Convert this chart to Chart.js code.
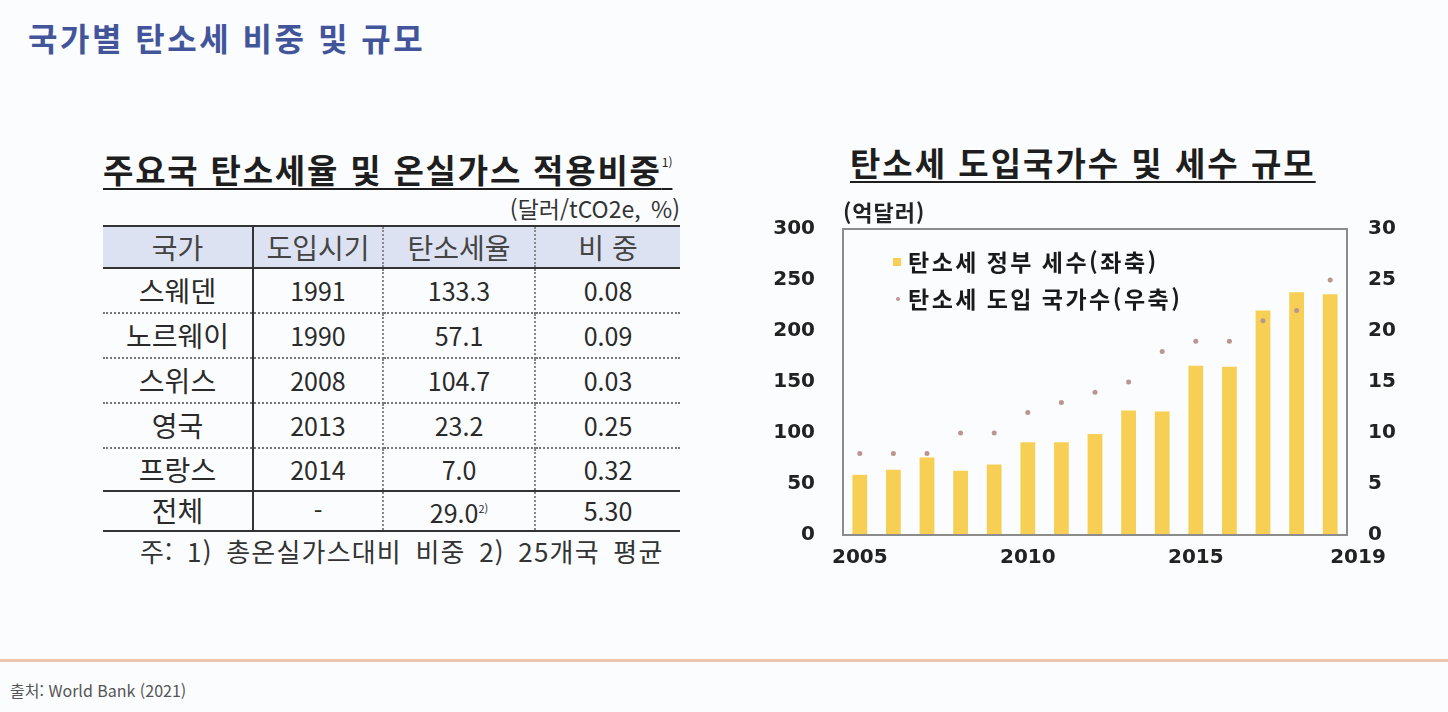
<!DOCTYPE html>
<html lang="ko">
<head>
<meta charset="utf-8">
<script src="https://cdn.jsdelivr.net/npm/chart.js@4.4.1/dist/chart.umd.min.js"></script>
<style>
  html, body { margin: 0; padding: 0; }
  body { width: 1448px; height: 712px; background: #fafcfd; position: relative; overflow: hidden;
         font-family: "Noto Sans CJK KR", "Noto Sans", sans-serif; color: #2a2a2a; }
  .abs { position: absolute; white-space: nowrap; }
  #pageTitle { left: 28px; top: 18px; font-size: 32px; line-height: 38px; font-weight: 700; color: #42559a; letter-spacing: 2.5px; }
  .subTitle { font-size: 33px; line-height: 38px; font-weight: 700; color: #1e1e1e; letter-spacing: 1.8px;
              text-decoration: underline; text-decoration-thickness: 2px; text-underline-offset: 5px; }
  #tblTitle { left: 103px; top: 143px; }
  #tblTitle sup { font-size: 12px; font-weight: 400; letter-spacing: 0; vertical-align: 16px; }
  #chartTitle { left: 850px; top: 143px; letter-spacing: 2px; }
  #unit { right: 768px; top: 195px; font-size: 23px; line-height: 26px; color: #333; word-spacing: 4px; }
  table { position: absolute; left: 103px; top: 225px; width: 577px; border-collapse: collapse; table-layout: fixed;
          border-top: 2px solid #333; font-size: 25px; }
  th, td { text-align: center; vertical-align: middle; padding: 0; line-height: 28px; box-sizing: border-box; }
  th { background: #dde2f2; font-weight: 400; color: #444; height: 42px; border-bottom: 2px solid #333; font-size: 28px; }
  td { height: 45px; border-bottom: 2px dotted #777; padding-bottom: 2px; }
  td:first-child { font-size: 28px; }
  th, td { border-right: 2px dotted #888; }
  th:first-child, td:first-child { border-right: 2px solid #333; }
  th:last-child, td:last-child { border-right: none; }
  tr.beforeTotal td { border-bottom: 2px solid #333; height: 43px; }
  tr.total td { border-bottom: 2px solid #333; height: 40px; }
  td sup { font-size: 11px; vertical-align: 10px; }
  #note { left: 140px; top: 534px; font-size: 26px; line-height: 34px; color: #333; letter-spacing: 1.2px; word-spacing: 5px; }
  #rule { left: 0; top: 659px; width: 1448px; height: 3px; background: #efc4b3; }
  #source { left: 10px; top: 679px; font-size: 16px; line-height: 22px; color: #555; }
  #chartBox { left: 760px; top: 189px; width: 660px; height: 391px; }
</style>
</head>
<body>
<div id="pageTitle" class="abs">국가별 탄소세 비중 및 규모</div>

<div id="tblTitle" class="abs subTitle">주요국 탄소세율 및 온실가스 적용비중<sup>1)</sup></div>
<div id="unit" class="abs">(달러/tCO2e, %)</div>
<table id="taxTable"></table>
<div id="note" class="abs">주: 1) 총온실가스대비 비중 2) 25개국 평균</div>

<div id="chartTitle" class="abs subTitle">탄소세 도입국가수 및 세수 규모</div>
<div id="chartBox" class="abs"><canvas id="chart" width="660" height="391"></canvas></div>

<div id="rule" class="abs"></div>
<div id="source" class="abs">출처: World Bank (2021)</div>

<script>
'use strict';
// table data
const tableHead = ['국가', '도입시기', '탄소세율', '비 중'];
const colWidths = [150, 130, 152, 145];
const countryNames = ['스웨덴', '노르웨이', '스위스', '영국', '프랑스', '전체'];
const startYears = ['1991', '1990', '2008', '2013', '2014', '-'];
const taxRates = ['133.3', '57.1', '104.7', '23.2', '7.0', '29.0'];
const shares = ['0.08', '0.09', '0.03', '0.25', '0.32', '5.30'];

// chart data
const years = ['2005', '2006', '2007', '2008', '2009', '2010', '2011', '2012',
               '2013', '2014', '2015', '2016', '2017', '2018', '2019'];
const revenue = [59, 64, 76, 63, 69, 91, 91, 99, 122, 121, 166, 165, 220, 238, 236];   // 억달러
const countryCount = [8, 8, 8, 10, 10, 12, 13, 14, 15, 18, 19, 19, 21, 22, 25];
const leftTicks = [0, 50, 100, 150, 200, 250, 300];
const rightTicks = [0, 5, 10, 15, 20, 25, 30];

const barColor = '#f7cf55';
const dotColor = '#bb9690';
const numFont = 'DejaVu Sans';
const korFont = 'Noto Sans CJK KR';

// build table
(function () {
  const tbl = document.getElementById('taxTable');
  let html = '<colgroup>' + colWidths.map(w => '<col style="width:' + w + 'px">').join('') + '</colgroup>';
  html += '<thead><tr>' + tableHead.map(h => '<th>' + h + '</th>').join('') + '</tr></thead><tbody>';
  countryNames.forEach((name, i) => {
    let cls = '';
    if (i === countryNames.length - 2) cls = ' class="beforeTotal"';
    if (i === countryNames.length - 1) cls = ' class="total"';
    const rate = (i === countryNames.length - 1) ? taxRates[i] + '<sup>2)</sup>' : taxRates[i];
    html += '<tr' + cls + '><td>' + name + '</td><td>' + startYears[i] + '</td><td>' + rate +
            '</td><td>' + shares[i] + '</td></tr>';
  });
  tbl.innerHTML = html + '</tbody>';
})();

// frame, unit label and legend inside the plot
const framePlugin = {
  id: 'frame',
  afterDraw(chart) {
    const ctx = chart.ctx, a = chart.chartArea;
    ctx.save();
    ctx.strokeStyle = '#8c8c8c';
    ctx.lineWidth = 2;
    ctx.strokeRect(a.left, a.top, a.right - a.left, a.bottom - a.top);

    ctx.fillStyle = '#222';
    ctx.font = 'bold 22px "' + korFont + '"';
    ctx.textBaseline = 'middle';
    if ('letterSpacing' in ctx) ctx.letterSpacing = '1px';
    ctx.fillText('(억달러)', a.left, a.top - 16);

    ctx.font = 'bold 23px "' + korFont + '"';
    if ('letterSpacing' in ctx) ctx.letterSpacing = '2.5px';
    chart.data.datasets.forEach((ds, i) => {
      const y = a.top + 33 + i * 37;
      if (ds.type === 'bar') {
        ctx.fillStyle = ds.backgroundColor;
        ctx.fillRect(a.left + 50, y - 4, 8, 8);
      } else {
        ctx.fillStyle = ds.pointBackgroundColor;
        ctx.beginPath();
        ctx.arc(a.left + 55, y, 2, 0, Math.PI * 2);
        ctx.fill();
      }
      ctx.fillStyle = '#1a1a1a';
      ctx.fillText(ds.label, a.left + 65, y);
    });
    ctx.restore();
  }
};

const tickFont = { family: numFont, size: 20, weight: 'bold' };

new Chart(document.getElementById('chart'), {
  type: 'bar',
  data: {
    labels: years,
    datasets: [
      {
        type: 'bar',
        label: '탄소세 정부 세수(좌축)',
        data: revenue,
        yAxisID: 'y',
        backgroundColor: barColor,
        categoryPercentage: 1,
        barPercentage: 0.44,
        order: 1
      },
      {
        type: 'line',
        label: '탄소세 도입 국가수(우축)',
        data: countryCount,
        yAxisID: 'y1',
        showLine: false,
        pointRadius: 2.5,
        pointBackgroundColor: dotColor,
        pointBorderWidth: 0,
        order: 0
      }
    ]
  },
  options: {
    responsive: false,
    animation: false,
    layout: { padding: 0 },
    plugins: { legend: { display: false }, tooltip: { enabled: false } },
    scales: {
      // last year label starts at its bar, to the right, as in the source
      // (mirror keeps it from being clipped to this zero-height axis)
      xEnd: {
        type: 'category', position: 'bottom', weight: 0, offset: true,
        grid: { display: false, drawTicks: false },
        border: { display: false },
        afterFit: s => { s.height = 0; },
        ticks: {
          autoSkip: false, maxRotation: 0, mirror: true, padding: -35, align: 'start',
          color: '#222', font: tickFont,
          callback: (v, i) => (i === years.length - 1 ? years[i] : '')
        }
      },
      x: {
        type: 'category', position: 'bottom', weight: 1, offset: true,
        grid: { display: false, drawTicks: false },
        border: { display: false },
        afterFit: s => { s.height = 45; },
        ticks: {
          autoSkip: false, maxRotation: 0, padding: 11, color: '#222', font: tickFont,
          callback: (v, i) => (Number(years[i]) % 5 === 0 ? years[i] : '')
        }
      },
      y: {
        type: 'linear', position: 'left', min: 0, max: 300,
        afterBuildTicks: s => { s.ticks = leftTicks.map(v => ({ value: v })); },
        afterFit: s => { s.width = 83; },
        grid: { display: false, drawTicks: false },
        border: { display: false },
        ticks: { padding: 28, color: '#222', font: tickFont }
      },
      y1: {
        type: 'linear', position: 'right', min: 0, max: 30,
        afterBuildTicks: s => { s.ticks = rightTicks.map(v => ({ value: v })); },
        afterFit: s => { s.width = 73; },
        grid: { display: false, drawTicks: false },
        border: { display: false },
        ticks: { padding: 21, color: '#222', font: tickFont }
      }
    }
  },
  plugins: [framePlugin]
});
</script>
</body>
</html>
